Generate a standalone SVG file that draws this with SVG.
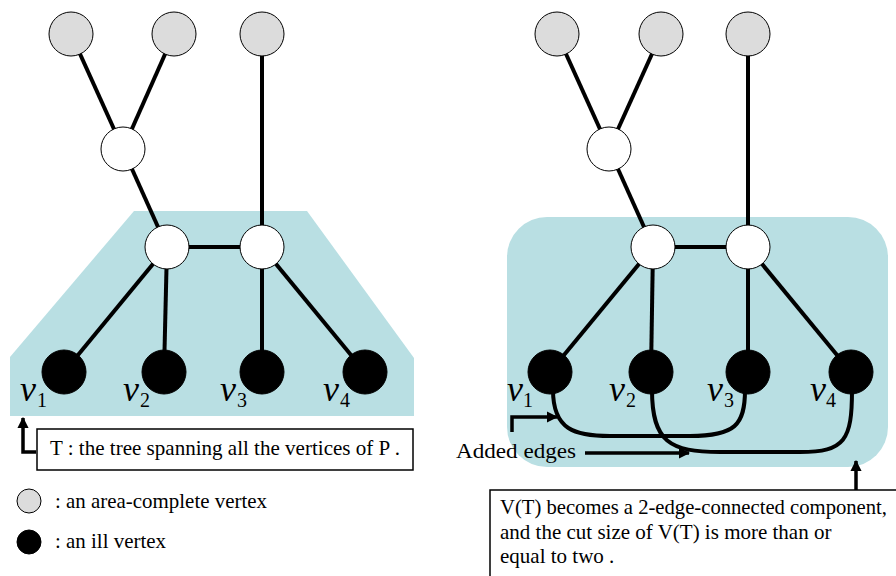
<svg xmlns="http://www.w3.org/2000/svg" width="896" height="576" viewBox="0 0 896 576">
<defs>
<style>
.area{fill:#b9dfe3;stroke:none}
.e{stroke:#000;stroke-width:4;fill:none}
.gray{fill:#dcdcdc;stroke:#000;stroke-width:1}
.white{fill:#fff;stroke:#000;stroke-width:1}
.ill{fill:#000;stroke:#000;stroke-width:1}
.t{font-family:"Liberation Serif","Times New Roman",serif;font-size:21px;fill:#000}
.v{font-family:"Liberation Serif","Times New Roman",serif;font-style:italic;font-size:36px;fill:#000}
.s{font-family:"Liberation Serif","Times New Roman",serif;font-size:20px;fill:#000}
.box{fill:#fff;stroke:#000;stroke-width:1.5}
.arr{stroke:#000;stroke-width:3.5;fill:none;marker-end:url(#ah)}
</style>
<marker id="ah" viewBox="0 0 10 10" refX="9" refY="5" markerWidth="3.2" markerHeight="3.2" orient="auto" markerUnits="strokeWidth">
<path d="M0,0 L10,5 L0,10 z" fill="#000"/>
</marker>
</defs>
<g id="areas">
<polygon class="area" points="134,211 307,211 414,358 414,416 10,416 10,357"/>
<rect class="area" x="507" y="217" width="381" height="250" rx="40" ry="40"/>
</g>
<g id="connectors">
<line class="e" x1="71" y1="34" x2="123" y2="149"/>
<line class="e" x1="174" y1="34" x2="123" y2="149"/>
<line class="e" x1="123" y1="149" x2="167" y2="247"/>
<line class="e" x1="262" y1="34" x2="262" y2="247"/>
<line class="e" x1="167" y1="247" x2="262" y2="247"/>
<line class="e" x1="167" y1="247" x2="64" y2="372"/>
<line class="e" x1="167" y1="247" x2="164" y2="372"/>
<line class="e" x1="262" y1="247" x2="262" y2="372"/>
<line class="e" x1="262" y1="247" x2="365" y2="372"/>
<line class="e" x1="557" y1="34" x2="609" y2="149"/>
<line class="e" x1="661" y1="34" x2="609" y2="149"/>
<line class="e" x1="609" y1="149" x2="653" y2="247"/>
<line class="e" x1="748" y1="34" x2="748" y2="247"/>
<line class="e" x1="653" y1="247" x2="748" y2="247"/>
<line class="e" x1="653" y1="247" x2="550" y2="372"/>
<line class="e" x1="653" y1="247" x2="651" y2="372"/>
<line class="e" x1="748" y1="247" x2="748" y2="372"/>
<line class="e" x1="748" y1="247" x2="851" y2="372"/>
<path class="e" d="M553,390 C553,430 575,436 610,436 L690,436 C735,436 745,425 745,390"/>
<path class="e" d="M652,390 C652,442 670,452 720,452 L800,452 C845,452 852,440 852,390"/>
</g>
<g id="n-g1"><circle class="gray" cx="71" cy="34" r="22"/></g>
<g id="n-g2"><circle class="gray" cx="174" cy="34" r="22"/></g>
<g id="n-g3"><circle class="gray" cx="262" cy="34" r="22"/></g>
<g id="n-w0"><circle class="white" cx="123" cy="149" r="22"/></g>
<g id="n-w1"><circle class="white" cx="167" cy="247" r="22"/></g>
<g id="n-w2"><circle class="white" cx="262" cy="247" r="22"/></g>
<g id="n-v1"><circle class="ill" cx="64" cy="372" r="22"/><text class="v" x="20" y="401">v</text><text class="s" x="37" y="407">1</text></g>
<g id="n-v2"><circle class="ill" cx="164" cy="372" r="22"/><text class="v" x="123" y="401">v</text><text class="s" x="140" y="407">2</text></g>
<g id="n-v3"><circle class="ill" cx="262" cy="372" r="22"/><text class="v" x="220" y="401">v</text><text class="s" x="237" y="407">3</text></g>
<g id="n-v4"><circle class="ill" cx="365" cy="372" r="22"/><text class="v" x="323" y="401">v</text><text class="s" x="340" y="407">4</text></g>
<g id="m-g1"><circle class="gray" cx="557" cy="34" r="22"/></g>
<g id="m-g2"><circle class="gray" cx="661" cy="34" r="22"/></g>
<g id="m-g3"><circle class="gray" cx="748" cy="34" r="22"/></g>
<g id="m-w0"><circle class="white" cx="609" cy="149" r="22"/></g>
<g id="m-w1"><circle class="white" cx="653" cy="247" r="22"/></g>
<g id="m-w2"><circle class="white" cx="748" cy="247" r="22"/></g>
<g id="m-v1"><circle class="ill" cx="550" cy="372" r="22"/><text class="v" x="507" y="401">v</text><text class="s" x="523" y="407">1</text></g>
<g id="m-v2"><circle class="ill" cx="651" cy="372" r="22"/><text class="v" x="609" y="401">v</text><text class="s" x="626" y="407">2</text></g>
<g id="m-v3"><circle class="ill" cx="748" cy="372" r="22"/><text class="v" x="707" y="401">v</text><text class="s" x="724" y="407">3</text></g>
<g id="m-v4"><circle class="ill" cx="851" cy="372" r="22"/><text class="v" x="810" y="401">v</text><text class="s" x="826" y="407">4</text></g>
<g id="label-T">
<path class="arr" d="M36,452 L23,452 L23,418"/>
<rect class="box" x="37" y="429" width="376" height="41"/>
<text class="t" x="50" y="455" textLength="350" lengthAdjust="spacingAndGlyphs">T : the tree spanning all the vertices of  P .</text>
</g>
<g id="legend">
<circle class="gray" cx="29" cy="501" r="12"/>
<text class="t" x="55" y="508" textLength="212" lengthAdjust="spacingAndGlyphs">: an area-complete vertex</text>
<circle class="ill" cx="29" cy="542" r="12"/>
<text class="t" x="55" y="548" textLength="111" lengthAdjust="spacingAndGlyphs">: an ill vertex</text>
</g>
<g id="label-added">
<path class="arr" d="M512,432 L512,417 L557,417"/>
<text class="t" x="456" y="458" style="font-size:22px" textLength="120" lengthAdjust="spacingAndGlyphs">Added edges</text>
<path class="arr" d="M585,453 L689,453"/>
</g>
<g id="label-VT">
<path class="arr" d="M856,490 L856,461"/>
<rect class="box" x="490" y="490" width="410" height="90"/>
<text class="t" x="500" y="514" textLength="387" lengthAdjust="spacingAndGlyphs">V(T) becomes a 2-edge-connected component,</text>
<text class="t" x="500" y="539">and the cut size of V(T) is more than or</text>
<text class="t" x="500" y="563">equal to two .</text>
</g>
</svg>
